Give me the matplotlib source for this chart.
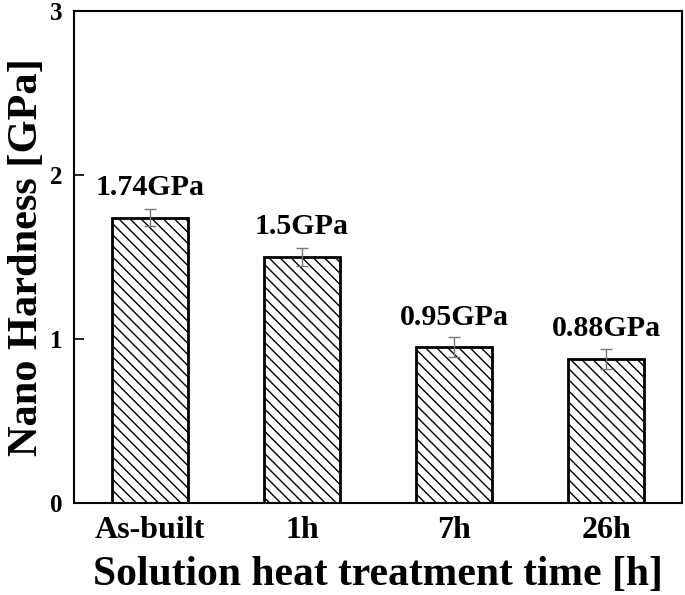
import numpy as np
import matplotlib.pyplot as plt

plt.rcParams['font.family'] = ['Liberation Serif', 'DejaVu Serif']
plt.rcParams['font.weight'] = 'bold'
plt.rcParams['hatch.linewidth'] = 1.0

categories = ["As-built", "1h", "7h", "26h"]
hardness = [1.74, 1.5, 0.95, 0.88]
errors = [0.05, 0.055, 0.06, 0.06]
labels = ["1.74GPa", "1.5GPa", "0.95GPa", "0.88GPa"]

fig = plt.figure(figsize=(6.85, 5.95), dpi=100)
ax = fig.add_axes([74 / 685, 92 / 595, 608 / 685, 492 / 595])

x = np.arange(len(categories))
bars = ax.bar(x, hardness, width=0.5, color='white', edgecolor='black',
              linewidth=2, hatch='\\\\\\')
ax.errorbar(x, hardness, yerr=errors, fmt='none', ecolor='#777777',
            elinewidth=1, capsize=4, capthick=1)

for xi, h, lab in zip(x, hardness, labels):
    ax.annotate(lab, (xi, h), xytext=(0, 12), textcoords='offset points',
                ha='center', va='bottom', fontsize=21.5, fontweight='bold')

ax.set_xlim(-0.5, 3.5)
ax.set_ylim(0, 3)
ax.set_yticks([0, 1, 2, 3])
ax.set_xticks(x)
ax.set_xticklabels(categories)
ax.tick_params(axis='x', length=0, pad=9, labelsize=23)
ax.tick_params(axis='y', direction='in', length=7, width=1.2, pad=8, labelsize=18)
for s in ax.spines.values():
    s.set_linewidth(1.5)

ax.set_xlabel("Solution heat treatment time [h]", fontsize=30, fontweight='bold', labelpad=8)
ax.set_ylabel("Nano Hardness [GPa]", fontsize=30.5, fontweight='bold', labelpad=3)

fig.savefig("out.png", dpi=100)
